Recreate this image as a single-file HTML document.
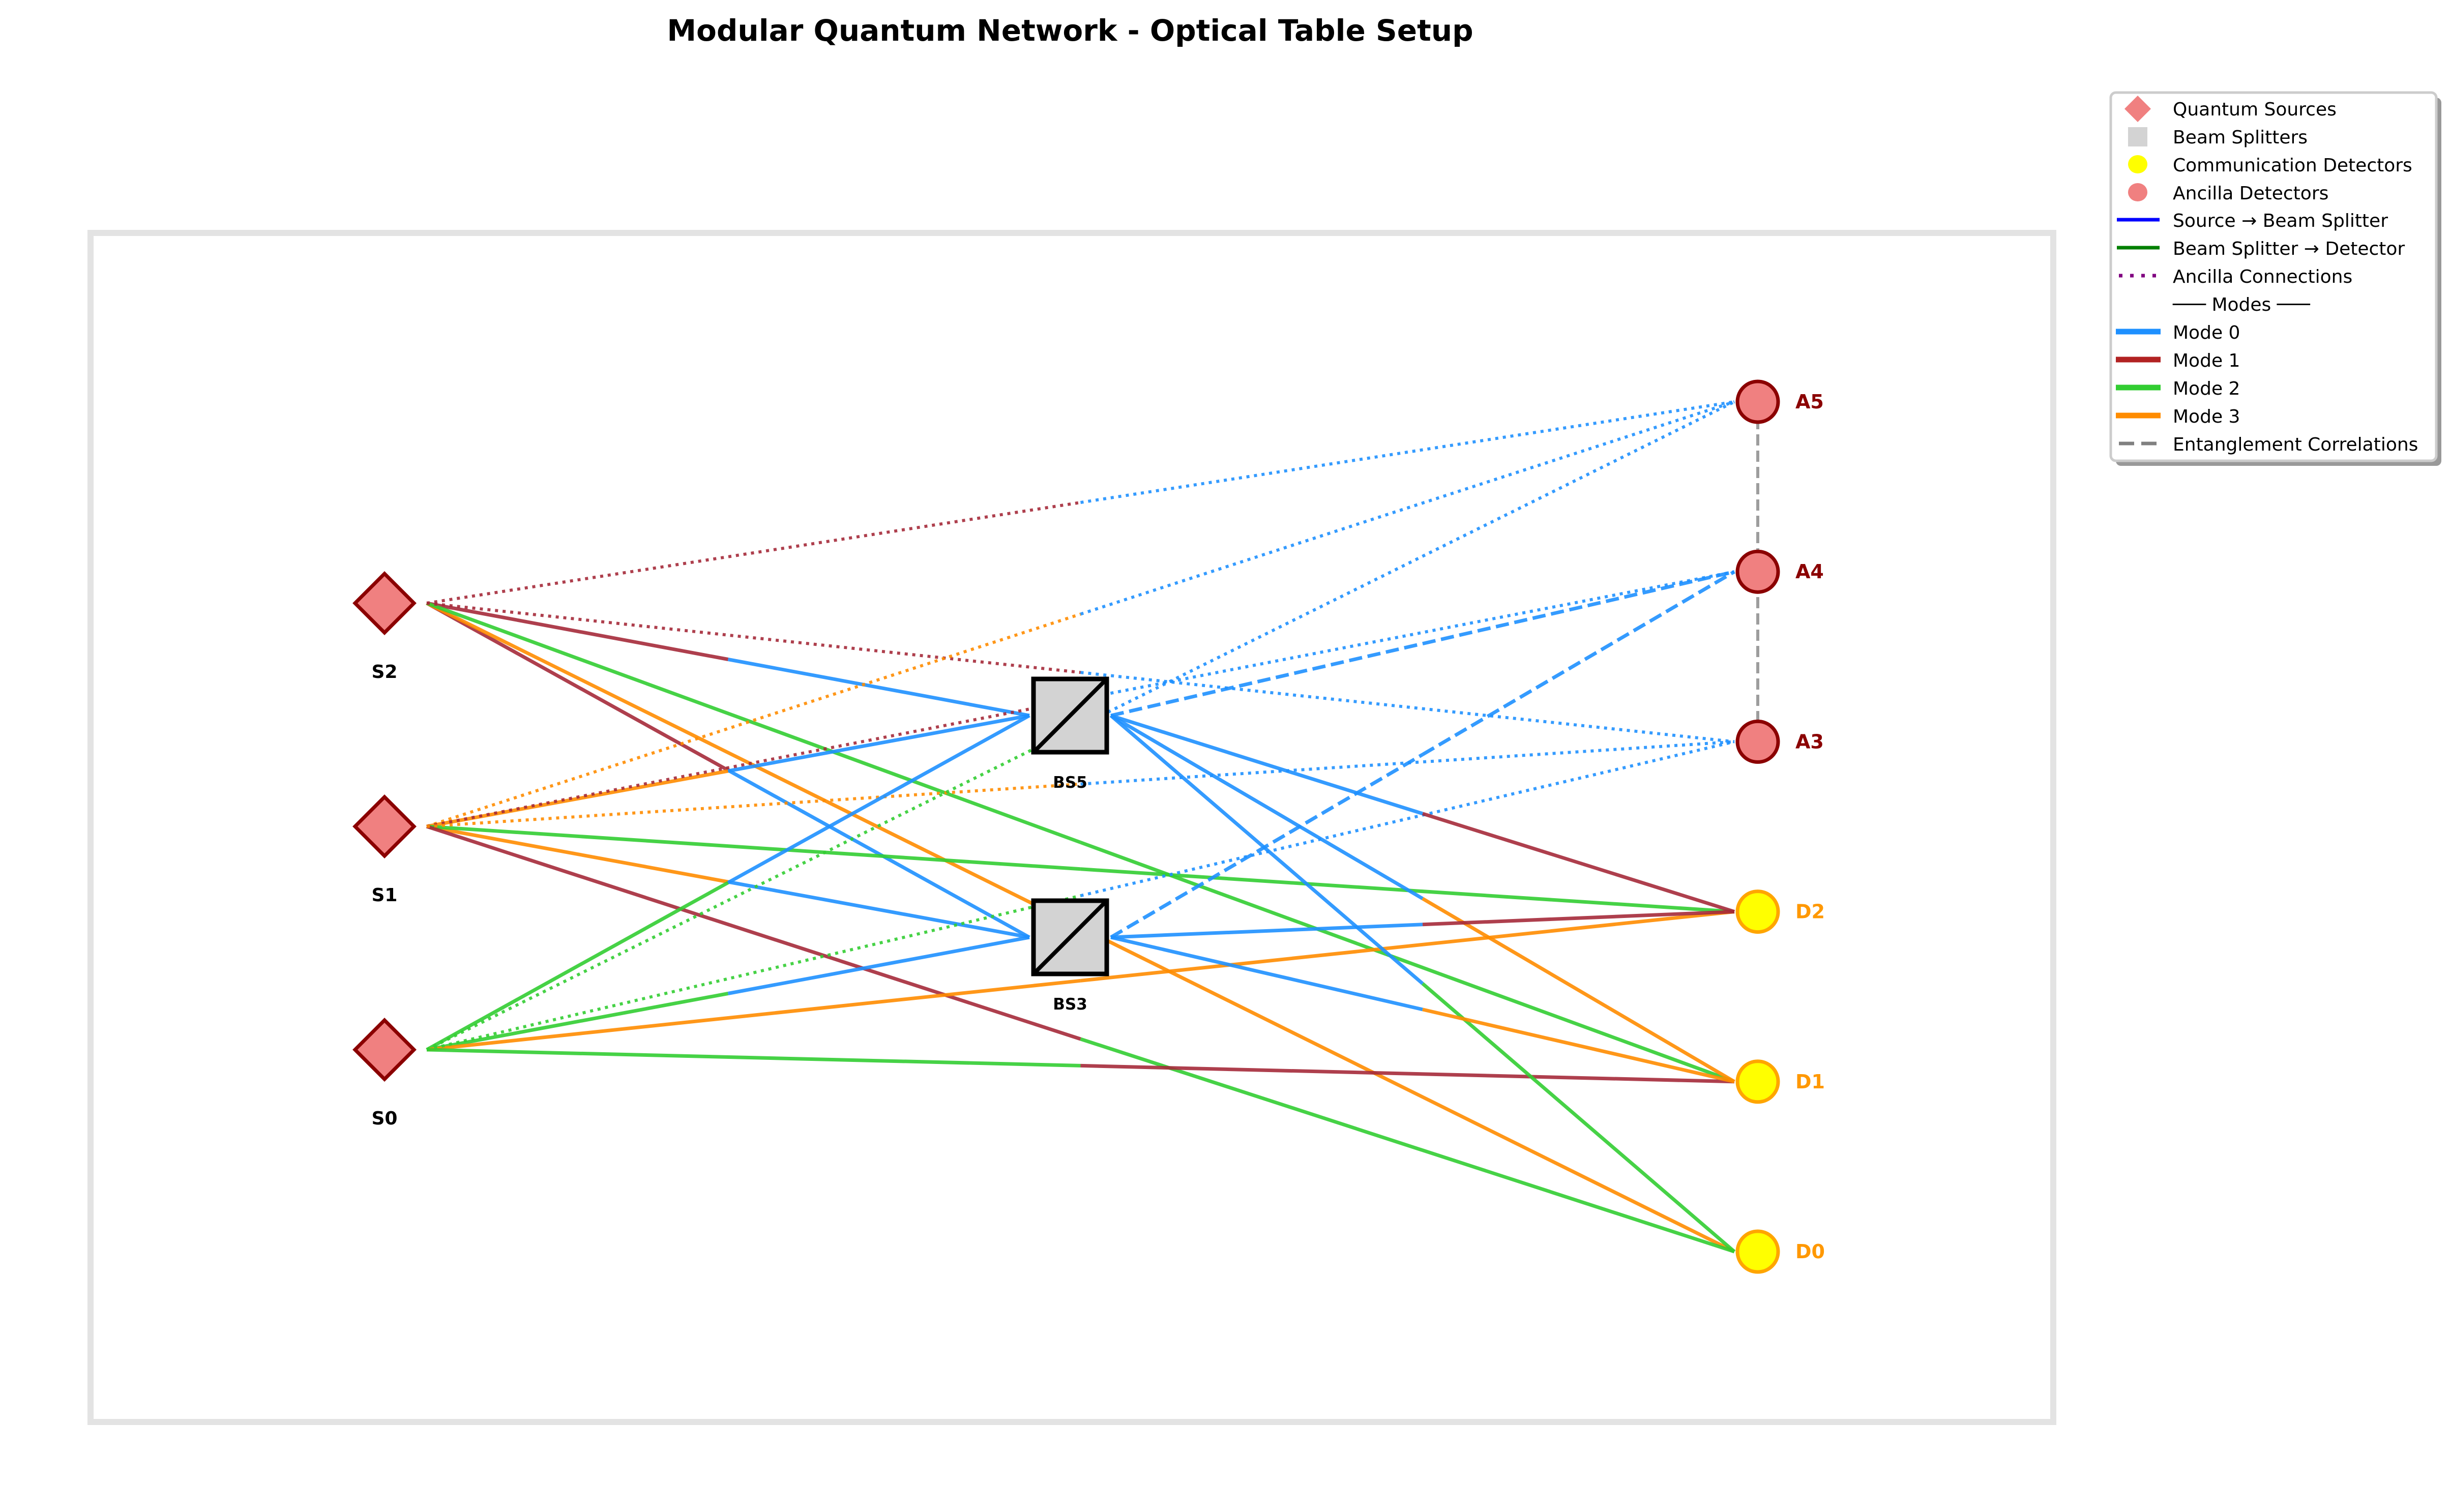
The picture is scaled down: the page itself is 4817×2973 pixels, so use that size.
<!DOCTYPE html>
<html><head><meta charset="utf-8"><style>
html,body{margin:0;padding:0;background:#fff;}
svg{display:block;font-family:"DejaVu Sans","Liberation Sans",sans-serif;}
</style></head><body>
<svg id="chart" width="4817" height="2973" viewBox="0 0 4817 2973" xmlns="http://www.w3.org/2000/svg">
<rect x="0" y="0" width="4817" height="2973" fill="#fff"/>
<text x="2104" y="80" text-anchor="middle" font-size="58" font-weight="bold" fill="#000">Modular Quantum Network - Optical Table Setup</text>
<rect x="178" y="458" width="3859" height="2338" fill="none" stroke="#e3e3e3" stroke-width="12"/>
<g id="edges"></g>
<line x1="3456" y1="790" x2="3456" y2="1459" stroke="#8c8c8c" stroke-opacity="0.85" stroke-width="6" stroke-dasharray="22 10"/>
<g id="nodes"></g>
<g>
<rect x="4160" y="192" width="640" height="724" rx="10" fill="#999"/>
<rect x="4150" y="182" width="640" height="724" rx="10" fill="#fff" stroke="#ccc" stroke-width="5"/>
<g font-size="36" fill="#000">
<polygon points="4203,188 4229,214 4203,240 4177,214" fill="#f08080"/>
<text x="4272" y="227">Quantum Sources</text>
<rect x="4184" y="250" width="38" height="38" fill="#d3d3d3"/>
<text x="4272" y="282">Beam Splitters</text>
<ellipse cx="4203" cy="323" rx="19" ry="18" fill="#ffff00"/>
<text x="4272" y="337">Communication Detectors</text>
<ellipse cx="4203" cy="378" rx="19" ry="18" fill="#f08080"/>
<text x="4272" y="392">Ancilla Detectors</text>
<line x1="4162" y1="432" x2="4246" y2="432" stroke="#0000ff" stroke-width="7"/>
<text x="4272" y="446">Source → Beam Splitter</text>
<line x1="4162" y1="487" x2="4246" y2="487" stroke="#008000" stroke-width="7"/>
<text x="4272" y="501">Beam Splitter → Detector</text>
<line x1="4166" y1="542" x2="4246" y2="542" stroke="#800080" stroke-width="7" stroke-dasharray="7 15"/>
<text x="4272" y="556">Ancilla Connections</text>
<text x="4272" y="611">─── Modes ───</text>
<line x1="4160" y1="652" x2="4248" y2="652" stroke="#1e90ff" stroke-width="11"/>
<text x="4272" y="666">Mode 0</text>
<line x1="4160" y1="707" x2="4248" y2="707" stroke="#b22222" stroke-width="11"/>
<text x="4272" y="721">Mode 1</text>
<line x1="4160" y1="762" x2="4248" y2="762" stroke="#32cd32" stroke-width="11"/>
<text x="4272" y="776">Mode 2</text>
<line x1="4160" y1="817" x2="4248" y2="817" stroke="#ff8c00" stroke-width="11"/>
<text x="4272" y="831">Mode 3</text>
<line x1="4166" y1="872" x2="4246" y2="872" stroke="#808080" stroke-width="7" stroke-dasharray="30 14"/>
<text x="4272" y="886">Entanglement Correlations</text>
</g>
</g>
</svg>
<script>
var NS="http://www.w3.org/2000/svg";
// node names and kinds
var nodeNames=["S0","S1","S2","BS3","BS5","D0","D1","D2","A3","A4","A5"];
var nodeKinds=["source","source","source","bs","bs","comm","comm","comm","anc","anc","anc"];
// table grid coordinates (column, row) for each node
var nodeCol=[0,0,0,1,1,2,2,2,2,2,2];
var nodeRow=[0,1,2,1.8,2.8,0,1,2,3,4,5];
// connections: source index, target index, first-half mode, second-half mode, style
var edgeFrom=[2,2,2,2,2,2, 1,1,1,1,1,1,1, 0,0,0,0,0,0, 4,4,4,4, 3,3,3];
var edgeTo=  [4,3,5,6,10,8, 4,3,7,5,10,9,8, 4,3,7,6,10,8, 9,7,5,6, 9,7,6];
var edgeMode1=[1,1,3,2,1,1, 3,3,2,1,3,1,3, 2,2,3,2,2,2, 0,0,0,0, 0,0,0];
var edgeMode2=[0,0,3,2,0,0, 0,0,2,2,0,0,0, 0,0,3,1,0,0, 0,1,2,3, 0,1,3];
var edgeStyle=["s","s","s","s","d","d", "s","s","s","s","d","d","d", "s","s","s","s","d","d", "a","s","s","s", "a","s","s"];
var modeColors=["#1e90ff","#a52a3a","#32cd32","#ff8c00"];

function xPos(c){return [756,2104,3456][c];}
function yPos(k,r){
  if(k==="source") return 2064-r*439;
  if(k==="bs") return 1843-(r-1.8)*436;
  return 2461-r*334.2;
}
function outOff(k){return k==="source"?83:(k==="bs"?80:0);}
function inOff(k){return k==="bs"?80:46;}
var px=[],py=[];
for(var i=0;i<nodeNames.length;i++){px.push(xPos(nodeCol[i]));py.push(yPos(nodeKinds[i],nodeRow[i]));}

var eg=document.getElementById('edges');
function seg(x1,y1,x2,y2,col,st){
  var l=document.createElementNS(NS,'line');
  
  
  l.setAttribute('x1',x1);l.setAttribute('y1',y1);l.setAttribute('x2',x2);l.setAttribute('y2',y2);
  l.setAttribute('stroke',col);l.setAttribute('stroke-opacity','0.9');
  if(st==="s"){l.setAttribute('stroke-width','7');}
  else if(st==="d"){l.setAttribute('stroke-width','6');l.setAttribute('stroke-dasharray','6 9');}
  else {l.setAttribute('stroke-width','7');l.setAttribute('stroke-dasharray','26 11');}
  eg.appendChild(l);
}
for(var e=0;e<edgeFrom.length;e++){
  var a=edgeFrom[e],b=edgeTo[e];
  var x1=px[a]+outOff(nodeKinds[a]),y1=py[a];
  var x2=px[b]-inOff(nodeKinds[b]),y2=py[b];
  var mx=(x1+x2)/2,my=(y1+y2)/2;
  seg(x1,y1,mx,my,modeColors[edgeMode1[e]],edgeStyle[e]);
  seg(mx,my,x2,y2,modeColors[edgeMode2[e]],edgeStyle[e]);
}

var ng=document.getElementById('nodes');
for(var i=0;i<nodeNames.length;i++){
  var k=nodeKinds[i],x=px[i],y=py[i],el,lb;
  if(k==="source"){
    el=document.createElementNS(NS,'polygon');
    el.setAttribute('points',(x)+','+(y-58)+' '+(x+58)+','+y+' '+x+','+(y+58)+' '+(x-58)+','+y);
    el.setAttribute('fill','#f08080');el.setAttribute('stroke','#8b0000');el.setAttribute('stroke-width','7');
    
    
    ng.appendChild(el);
    lb=document.createElementNS(NS,'text');
    lb.setAttribute('x',x);lb.setAttribute('y',y+147);lb.setAttribute('text-anchor','middle');
    lb.setAttribute('font-size','36');lb.setAttribute('font-weight','bold');lb.setAttribute('fill','#000');
  } else if(k==="bs"){
    var g=document.createElementNS(NS,'g');
    
    
    var r=document.createElementNS(NS,'rect');
    r.setAttribute('x',x-72);r.setAttribute('y',y-72);r.setAttribute('width',144);r.setAttribute('height',144);
    r.setAttribute('fill','#d3d3d3');r.setAttribute('stroke','#000');r.setAttribute('stroke-width','9');
    g.appendChild(r);
    var d=document.createElementNS(NS,'line');
    d.setAttribute('x1',x-72);d.setAttribute('y1',y+72);d.setAttribute('x2',x+72);d.setAttribute('y2',y-72);
    d.setAttribute('stroke','#000');d.setAttribute('stroke-width','8');
    g.appendChild(d);
    ng.appendChild(g);
    lb=document.createElementNS(NS,'text');
    lb.setAttribute('x',x);lb.setAttribute('y',y+142);lb.setAttribute('text-anchor','middle');
    lb.setAttribute('font-size','31');lb.setAttribute('font-weight','bold');lb.setAttribute('fill','#000');
  } else {
    el=document.createElementNS(NS,'circle');
    el.setAttribute('cx',x);el.setAttribute('cy',y);el.setAttribute('r','40');
    el.setAttribute('fill',k==="comm"?'#ffff00':'#f08080');
    el.setAttribute('stroke',k==="comm"?'#ffa500':'#8b0000');el.setAttribute('stroke-width','7');
    
    
    ng.appendChild(el);
    lb=document.createElementNS(NS,'text');
    lb.setAttribute('x',x+74);lb.setAttribute('y',y+13);
    lb.setAttribute('font-size','38');lb.setAttribute('font-weight','bold');
    lb.setAttribute('fill',k==="comm"?'#ff9800':'#8b0000');
  }
  
  
  lb.textContent=nodeNames[i];
  ng.appendChild(lb);
}
</script>
</body></html>
